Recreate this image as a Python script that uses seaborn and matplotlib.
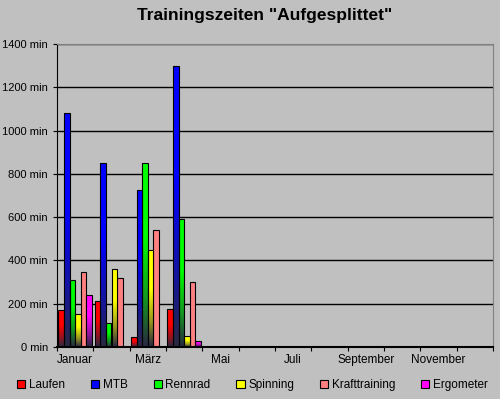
import numpy as np
import pandas as pd
import matplotlib
matplotlib.use("Agg")
import matplotlib.pyplot as plt
from matplotlib.colors import LinearSegmentedColormap
from matplotlib.patches import Patch
import seaborn as sns

# data (minutes per month)
monate = ["Januar", "Februar", "März", "April", "Mai", "Juni", "Juli",
          "August", "September", "Oktober", "November", "Dezember"]
monat_labels = ["Januar", "", "März", "", "Mai", "", "Juli", "",
                "September", "", "November", ""]
sportarten = ["Laufen", "MTB", "Rennrad", "Spinning", "Krafttraining", "Ergometer"]

laufen = [170, 215, 45, 175, 0, 0, 0, 0, 0, 0, 0, 0]
mtb = [1080, 850, 725, 1300, 0, 0, 0, 0, 0, 0, 0, 0]
rennrad = [310, 110, 850, 590, 0, 0, 0, 0, 0, 0, 0, 0]
spinning = [155, 360, 450, 50, 0, 0, 0, 0, 0, 0, 0, 0]
krafttraining = [345, 320, 540, 300, 0, 0, 0, 0, 0, 0, 0, 0]
ergometer = [240, 0, 0, 30, 0, 0, 0, 0, 0, 0, 0, 0]

farben = ["#FF0000", "#0000FF", "#00FF00", "#FFFF00", "#FF8080", "#FF00FF"]
yticks = [0, 200, 400, 600, 800, 1000, 1200, 1400]

werte = [laufen, mtb, rennrad, spinning, krafttraining, ergometer]
df = pd.DataFrame([(m, s, v[i]) for s, v in zip(sportarten, werte)
                   for i, m in enumerate(monate)],
                  columns=["Monat", "Sportart", "Minuten"])

grau = "#C0C0C0"
plt.rcParams["font.family"] = ["Liberation Sans", "DejaVu Sans"]
plt.rcParams["font.size"] = 8.5

fig = plt.figure(figsize=(5.0, 3.99), dpi=100, facecolor=grau)
ax = fig.add_axes([0.114, 0.130, 0.872, 0.760])
ax.set_facecolor(grau)

sns.barplot(data=df, x="Monat", y="Minuten", hue="Sportart", order=monate,
            hue_order=sportarten, palette=farben, saturation=1, width=0.93,
            edgecolor="black", linewidth=0.8, ax=ax)
if ax.get_legend() is not None:
    ax.get_legend().remove()

# Excel-like gradient fill: bright at the top, dark at the bottom
# (Krafttraining stays solid)
dunkel = np.array([0.16, 0.16, 0.26])
for p in ax.patches:
    h = p.get_height()
    if h <= 0:
        continue
    col = np.array(p.get_facecolor()[:3])
    if abs(col[1] - 0.5) < 0.05 and col[0] > 0.95:
        continue
    cmap = LinearSegmentedColormap.from_list(
        "g", [(0.0, dunkel), (0.25, dunkel * 0.5 + col * 0.5), (0.6, col), (1.0, col)])
    x0 = p.get_x()
    grad = np.linspace(0, 1, 64).reshape(-1, 1)
    im = ax.imshow(grad, extent=[x0, x0 + p.get_width(), 0, h], origin="lower",
                   cmap=cmap, aspect="auto", zorder=p.get_zorder() + 0.1,
                   interpolation="bilinear")
    im.set_clip_path(p)
    p.set_facecolor("none")
    p.set_zorder(p.get_zorder() + 0.2)

ax.set_xlim(-0.5, 11.5)
ax.set_ylim(0, 1400)
ax.set_yticks(yticks)
ax.set_yticklabels([f"{v} min" for v in yticks], fontsize=8)
ax.set_xticks(np.arange(-0.5, 12, 1))
ax.set_xticklabels([])
ax.set_xticks(np.arange(12), minor=True)
ax.set_xticklabels(monat_labels, minor=True)
ax.tick_params(axis="x", which="minor", length=0, pad=5)
ax.tick_params(axis="both", which="major", length=3, color="black", labelcolor="black")
ax.set_xlabel("")
ax.set_ylabel("")

ax.yaxis.grid(True, color="black", linewidth=1)
ax.set_axisbelow(True)
for s in ["top", "right"]:
    ax.spines[s].set_color("#808080")
for s in ["left", "bottom"]:
    ax.spines[s].set_color("black")
ax.spines["bottom"].set_linewidth(1.5)

fig.text(0.53, 0.962, 'Trainingszeiten "Aufgesplittet"', ha="center", va="center",
         fontsize=12.5, fontweight="bold")

handles = [Patch(facecolor=c, edgecolor="black", linewidth=0.8) for c in farben]
fig.legend(handles, sportarten, loc="center", bbox_to_anchor=(0.505, 0.035), ncol=6,
           frameon=False, handlelength=0.7, handleheight=0.7, handletextpad=0.3,
           columnspacing=2.2, fontsize=8.5)

fig.savefig("out.png", dpi=100, facecolor=grau)
